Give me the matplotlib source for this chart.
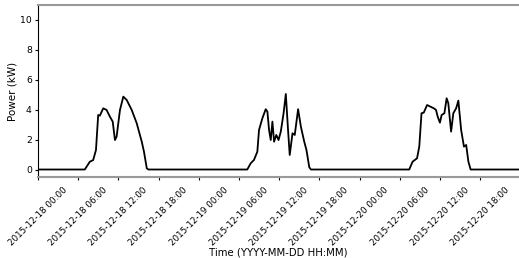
import matplotlib
matplotlib.use("Agg")
import matplotlib.pyplot as plt
import matplotlib.dates as mdates
import pandas as pd

# approximate readings of PV power, three days in december 2015
day1_times = ["07:00", "07:45", "08:15", "08:40", "09:00", "09:15", "09:45", "10:15",
              "10:45", "11:10", "11:30", "11:45", "12:15", "12:45", "13:15", "14:00",
              "14:45", "15:30", "15:50", "16:15", "16:30"]
day1_power = [0, 0.52, 0.63, 1.3, 3.64, 3.6, 4.09, 3.98,
              3.53, 3.2, 1.97, 2.2, 3.98, 4.87, 4.65, 3.98,
              3.09, 1.86, 1.19, 0.08, 0]

day2_times = ["07:15", "07:45", "08:15", "08:45", "09:00", "09:30", "10:00", "10:15",
              "10:30", "10:45", "11:00", "11:15", "11:35", "11:55", "12:15", "12:40",
              "13:00", "13:20", "13:35", "14:00", "14:20", "14:50", "15:15", "15:45",
              "16:05", "16:30", "16:45"]
day2_power = [0, 0.41, 0.64, 1.19, 2.64, 3.42, 4.03, 3.87,
              2.64, 1.97, 3.2, 1.86, 2.31, 1.97, 2.53, 3.76,
              5.05, 2.64, 0.97, 2.42, 2.31, 4.03, 2.86, 1.86,
              1.3, 0.15, 0]

day3_times = ["07:25", "07:55", "08:35", "08:55", "09:15", "09:35", "10:05", "10:35",
              "11:05", "11:25", "11:40", "12:00", "12:15", "12:40", "13:00", "13:15",
              "13:40", "14:00", "14:25", "14:45", "15:10", "15:35", "15:55", "16:15",
              "16:35"]
day3_power = [0, 0.52, 0.75, 1.53, 3.76, 3.8, 4.31, 4.2,
              4.09, 3.98, 3.53, 3.13, 3.64, 3.76, 4.76, 4.43,
              2.53, 3.76, 4.09, 4.6, 2.64, 1.53, 1.64, 0.52,
              0]

times = (["2015-12-18 00:00"]
         + ["2015-12-18 " + t for t in day1_times]
         + ["2015-12-19 " + t for t in day2_times]
         + ["2015-12-20 " + t for t in day3_times]
         + ["2015-12-21 00:00"])
power = [0] + day1_power + day2_power + day3_power + [0]

df = pd.DataFrame({"power": power}, index=pd.to_datetime(times))

fig = plt.figure(figsize=(5.19, 2.58), dpi=100)
ax = fig.add_axes([0.073, 0.314, 0.927, 0.667])
ax.plot(df.index, df["power"], color="black", lw=1.3)

ax.set_xlim(pd.Timestamp("2015-12-18 00:00"), pd.Timestamp("2015-12-20 23:48"))
ax.set_ylim(-0.5, 11)
ax.set_yticks([0, 2, 4, 6, 8, 10])
ax.xaxis.set_major_locator(mdates.HourLocator(byhour=[0, 6, 12, 18]))
ax.xaxis.set_major_formatter(mdates.DateFormatter("%Y-%m-%d %H:%M"))
plt.setp(ax.get_xticklabels(), rotation=45, ha="center", fontsize=6.3)
ax.tick_params(axis="y", labelsize=6.7, length=2, pad=2.4)
ax.tick_params(axis="x", length=2.5)

ax.spines["right"].set_visible(False)
for s in ["top", "bottom"]:
    ax.spines[s].set_color("#999999")
    ax.spines[s].set_linewidth(1.5)

ax.set_ylabel("Power (kW)", fontsize=7.5, labelpad=2)
ax.set_xlabel("Time (YYYY-MM-DD HH:MM)", fontsize=7.3, labelpad=0)

fig.savefig("out.png", dpi=100)
